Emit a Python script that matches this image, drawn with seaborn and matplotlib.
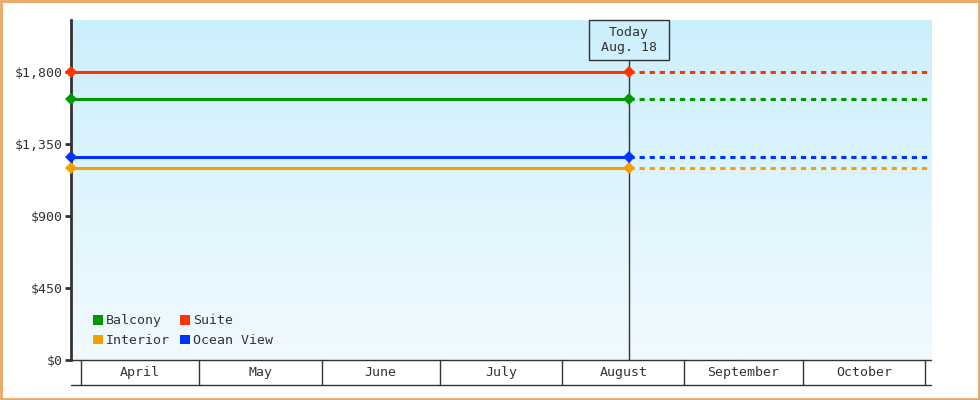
import numpy as np
import pandas as pd
import matplotlib
matplotlib.use("Agg")
import matplotlib.pyplot as plt
from matplotlib.colors import LinearSegmentedColormap
from matplotlib.patches import Patch, Rectangle
import seaborn as sns

# ---- data ----
cabins = ["Balcony", "Interior", "Suite", "Ocean View"]
prices = [1630, 1200, 1800, 1270]
colors = ["#009900", "#F5A000", "#FF3300", "#0033FF"]
start_date = "2024-03-29 12:00"
today_date = "2024-08-18"
end_date = "2024-11-02 12:00"
month_starts = ["2024-04-01", "2024-05-01", "2024-06-01", "2024-07-01",
                "2024-08-01", "2024-09-01", "2024-10-01", "2024-11-01"]
month_names = ["April", "May", "June", "July", "August", "September", "October"]
ytick_vals = [0, 450, 900, 1350, 1800]
ytick_labels = ["$0", "$450", "$900", "$1,350", "$1,800"]

sns.set_style("white")
plt.rcParams["font.family"] = ["DejaVu Sans Mono"]
TXT = "#333333"

start = pd.Timestamp(start_date)
today = pd.Timestamp(today_date)
end = pd.Timestamp(end_date)

hist = pd.DataFrame({
    "cabin": np.repeat(cabins, 2),
    "date": [start, today] * len(cabins),
    "price": np.repeat(prices, 2),
})
proj = pd.DataFrame({
    "cabin": np.repeat(cabins, 2),
    "date": [today, end] * len(cabins),
    "price": np.repeat(prices, 2),
})
palette = dict(zip(cabins, colors))

fig = plt.figure(figsize=(9.8, 4.0), dpi=100)
ax = fig.add_axes([71 / 980, 40 / 400, 860 / 980, 340 / 400])

# gradient background
cmap = LinearSegmentedColormap.from_list("bg", ["#F1FAFF", "#CCEFFC"])
grad = np.linspace(0, 1, 256).reshape(-1, 1)
ax.imshow(grad, extent=[0, 1, 0, 1], transform=ax.transAxes, aspect="auto",
          cmap=cmap, origin="lower", zorder=0)

sns.lineplot(data=proj, x="date", y="price", hue="cabin", palette=palette,
             linewidth=2.2, linestyle=(0, (1.7, 1.6)), legend=False, ax=ax,
             zorder=3)
sns.lineplot(data=hist, x="date", y="price", hue="cabin", palette=palette,
             linewidth=2.2, marker="D", markersize=6, markeredgewidth=0,
             legend=False, ax=ax, zorder=4)
for ln in ax.lines:
    ln.set_clip_on(False)

ax.set_xlim(start, end)
ax.set_ylim(0, 2125)
ax.set_xlabel("")
ax.set_ylabel("")
ax.grid(False)

# today marker: line + labelled box (box is 80 px wide, 40 px tall)
trans = ax.get_xaxis_transform()
day_px = 860 / (end - start).total_seconds() * 86400
half_w = pd.Timedelta(days=40 / day_px)
ax.axvline(today, ymin=0, ymax=300 / 340, color=TXT, lw=1, zorder=2)
ax.add_patch(Rectangle((today - half_w, 300 / 340), 2 * half_w, 40 / 340,
                       transform=trans, fill=False, ec=TXT, lw=1, clip_on=False))
ax.text(today, 320 / 340, "Today\nAug. 18", transform=trans,
        ha="center", va="center", fontsize=9.5, color=TXT, linespacing=1.25)

# y axis
ax.set_yticks(ytick_vals)
ax.set_yticklabels(ytick_labels, fontsize=9.5, color=TXT)
ax.tick_params(axis="y", left=True, length=4, width=2, color=TXT, pad=2)
ax.set_xticks([])
for side in ["top", "right", "bottom"]:
    ax.spines[side].set_visible(False)
ax.spines["left"].set_color(TXT)
ax.spines["left"].set_linewidth(2)

# month table under the plot
band = 25 / 340
ax.plot([0, 1], [0, 0], transform=ax.transAxes, color=TXT, lw=1, clip_on=False)
ax.plot([0, 1], [-band, -band], transform=ax.transAxes, color=TXT, lw=1, clip_on=False)
ms = [pd.Timestamp(d) for d in month_starts]
for d in ms:
    ax.plot([d, d], [0, -band], transform=trans, color=TXT, lw=1, clip_on=False)
for i, name in enumerate(month_names):
    mid = ms[i] + (ms[i + 1] - ms[i]) / 2
    ax.text(mid, -band / 2, name, transform=trans, ha="center", va="center",
            fontsize=9.5, color=TXT)

# legend
handles = [Patch(facecolor=palette[c], edgecolor="none", label=c) for c in cabins]
ax.legend(handles=handles, ncol=2, loc="lower left", bbox_to_anchor=(22 / 860, 13 / 340),
          borderpad=0, borderaxespad=0, frameon=False, fontsize=9.5,
          handlelength=0.75, handleheight=0.75, handletextpad=0.2,
          columnspacing=0.8, labelspacing=0.5, labelcolor=TXT)

# figure border
fig.patches.append(Rectangle((0.001, 0.0015), 0.998, 0.997, transform=fig.transFigure,
                             fill=False, ec="#E8A860", lw=2))

fig.savefig("out.png", dpi=100)
